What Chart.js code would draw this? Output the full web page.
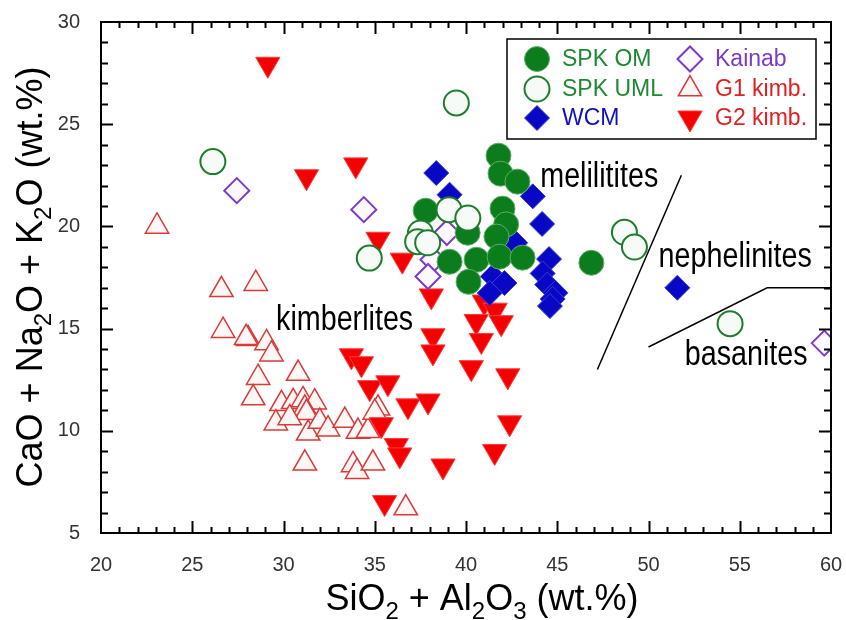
<!DOCTYPE html>
<html>
<head>
<meta charset="utf-8">
<script src="https://cdn.jsdelivr.net/npm/chart.js@4.4.1/dist/chart.umd.min.js"></script>
<style>
  html, body { margin: 0; padding: 0; background: #fff; }
</style>
</head>
<body>
<canvas id="chart" width="846" height="620"></canvas>
<script>
// data: [SiO2 + Al2O3, CaO + Na2O + K2O]
const spkOM = [[41.78,23.46],[41.89,22.58],[42.82,22.19],[37.79,20.77],[42.0,20.87],[42.2,20.1],
  [40.09,19.69],[41.67,19.5],[39.1,18.27],[40.58,18.37],[41.84,18.52],[43.1,18.47],[40.14,17.29],[46.87,18.22]];
const spkUML = [[39.47,26.04],[26.13,23.17],[34.7,18.45],[39.07,20.82],[40.1,20.41],[37.5,19.68],
  [37.35,19.25],[37.9,19.2],[48.68,19.71],[49.23,18.99],[54.47,15.24]];
const wcm = [[38.37,22.61],[39.1,21.55],[43.66,21.47],[44.17,20.12],[42.7,19.2],[44.55,18.4],[44.2,17.7],
  [44.45,17.15],[44.9,16.75],[44.75,16.45],[44.6,16.1],[41.47,17.55],[42.11,17.23],[41.3,16.74],[51.58,17.0]];
const kainab = [[27.44,21.75],[34.4,20.82],[38.95,19.7],[38.19,18.37],[37.92,17.55],[59.63,14.29]];
const g1kimb = [[23.07,20.0],[26.6,16.9],[28.48,17.2],[26.69,14.9],[28.06,14.5],[27.95,14.55],[29.07,14.3],
  [29.34,13.75],[28.61,12.6],[30.8,12.8],[28.34,11.6],[29.89,11.32],[30.53,11.42],[31.07,11.51],[31.71,11.4],
  [31.17,11.1],[31.26,10.88],[29.58,10.37],[30.34,10.63],[31.35,9.88],[31.99,10.45],[32.44,10.08],[33.36,10.5],
  [34.08,9.96],[34.63,10.0],[35.18,11.1],[35.0,10.9],[31.17,8.41],[33.81,8.33],[34.03,8.0],[34.9,8.41],[36.7,6.22]];
const g2kimb = [[29.14,27.93],[31.26,22.43],[33.96,23.01],[35.18,19.37],[36.51,18.35],[38.1,16.6],[41.0,16.3],
  [41.6,15.9],[40.56,15.35],[41.93,15.29],[40.84,14.42],[38.19,14.65],[38.19,13.86],[33.72,13.67],[34.27,13.28],
  [40.29,13.09],[42.29,12.69],[34.72,12.11],[35.72,12.35],[36.82,11.22],[37.92,11.46],[35.36,10.3],[36.18,9.28],
  [36.37,8.82],[38.74,8.28],[42.39,10.39],[41.57,8.99],[35.54,6.49]];

// field boundaries
const lineMelNeph = [[47.2,13.0],[51.8,22.5]];
const lineNephBas = [[50.0,14.1],[56.5,17.0],[60,17.0]];

// field names and where they sit (data units)
const fieldNames = ['melilitites', 'nephelinites', 'basanites', 'kimberlites'];
const fieldAt = [[47.3,22.4],[54.75,18.5],[55.35,13.7],[33.35,15.4]];

const xTicks = [20, 25, 30, 35, 40, 45, 50, 55, 60];
const yTicks = [5, 10, 15, 20, 25, 30];

const pts = a => a.map(p => ({ x: p[0], y: p[1] }));

const series = [
  { label: 'SPK OM',  data: spkOM,  style: 'circle',  rot: 0,   r: 12.5, bg: '#0b7d1c', bc: '#5fae66', bw: 1,   text: '#1f8a33', order: 1 },
  { label: 'SPK UML', data: spkUML, style: 'circle',  rot: 0,   r: 12.5, bg: '#f7fbf7', bc: '#1e7d2a', bw: 2,   text: '#1f8a33', order: 0 },
  { label: 'WCM',     data: wcm,    style: 'rectRot', rot: 0,   r: 12.5, bg: '#0808c4', bc: '#3a3ad8', bw: 1,   text: '#1010c0', order: 2 },
  { label: 'Kainab',  data: kainab, style: 'rectRot', rot: 0,   r: 12.5, bg: '#fbf9ff', bc: '#7a3cc8', bw: 2,   text: '#7a3cc8', order: 3 },
  { label: 'G1 kimb.',data: g1kimb, style: 'triangle',rot: 0,   r: 13.5, bg: '#fff6f6', bc: '#d83a3a', bw: 1.5, text: '#e02020', order: 5 },
  { label: 'G2 kimb.',data: g2kimb, style: 'triangle',rot: 180, r: 14,   bg: '#f50000', bc: '#ff3b3b', bw: 1,   text: '#e02020', order: 4 }
];

const datasets = series.map(s => ({
  label: s.label,
  data: pts(s.data),
  pointStyle: s.style,
  rotation: s.rot,
  pointRadius: s.r,
  pointHoverRadius: s.r,
  backgroundColor: s.bg,
  borderColor: s.bc,
  borderWidth: s.bw,
  order: s.order
}));

[lineMelNeph, lineNephBas].forEach(l => datasets.push({
  type: 'line', label: '', data: pts(l), showLine: true, pointRadius: 0,
  borderColor: '#000', borderWidth: 1.5, fill: false, order: 9
}));

function drawRich(ctx, parts, x, y, size) {
  // parts: [text, isSub]
  const big = size + 'px "Liberation Sans", Arial, sans-serif';
  const small = Math.round(size * 0.68) + 'px "Liberation Sans", Arial, sans-serif';
  let w = 0;
  parts.forEach(p => { ctx.font = p[1] ? small : big; w += ctx.measureText(p[0]).width; });
  let cx = x - w / 2;
  parts.forEach(p => {
    ctx.font = p[1] ? small : big;
    ctx.fillText(p[0], cx, p[1] ? y + size * 0.25 : y);
    cx += ctx.measureText(p[0]).width;
  });
}

const decor = {
  id: 'decor',
  afterDraw(chart) {
    const ctx = chart.ctx;
    const xs = chart.scales.x, ys = chart.scales.y;
    const a = chart.chartArea;
    ctx.save();

    // frame with inward ticks
    ctx.strokeStyle = '#000';
    ctx.lineWidth = 2;
    ctx.strokeRect(a.left, a.top, a.right - a.left, a.bottom - a.top);
    ctx.beginPath();
    for (let v = 21; v < 60; v++) {
      const px = Math.round(xs.getPixelForValue(v)) + 0.5;
      const len = v % 5 === 0 ? 12 : 6;
      ctx.moveTo(px, a.bottom); ctx.lineTo(px, a.bottom - len);
      ctx.moveTo(px, a.top); ctx.lineTo(px, a.top + len);
    }
    for (let v = 6; v < 30; v++) {
      const py = Math.round(ys.getPixelForValue(v)) + 0.5;
      const len = v % 5 === 0 ? 12 : 7;
      ctx.moveTo(a.left, py); ctx.lineTo(a.left + len, py);
      ctx.moveTo(a.right, py); ctx.lineTo(a.right - len, py);
    }
    ctx.stroke();

    // field names, narrow sans
    ctx.fillStyle = '#000';
    ctx.textAlign = 'center';
    ctx.textBaseline = 'middle';
    ctx.font = '35px "Liberation Sans", Arial, sans-serif';
    fieldNames.forEach((n, i) => {
      ctx.save();
      ctx.translate(xs.getPixelForValue(fieldAt[i][0]), ys.getPixelForValue(fieldAt[i][1]));
      ctx.scale(0.82, 1);
      ctx.fillText(n, 0, 0);
      ctx.restore();
    });

    // legend
    const lx = 507, ly = 39, lw = 309, lh = 100;
    ctx.fillStyle = '#fff';
    ctx.fillRect(lx, ly, lw, lh);
    ctx.lineWidth = 1.5;
    ctx.strokeStyle = '#000';
    ctx.strokeRect(lx, ly, lw, lh);
    const cols = [537, 690], rows = [59, 89, 118];
    ctx.textAlign = 'left';
    ctx.font = '23px "Liberation Sans", Arial, sans-serif';
    series.forEach((s, i) => {
      const cx = cols[Math.floor(i / 3)], cy = rows[i % 3];
      ctx.fillStyle = s.bg;
      ctx.strokeStyle = s.bc;
      ctx.lineWidth = s.bw;
      Chart.helpers.drawPoint(ctx, { pointStyle: s.style, rotation: s.rot, radius: s.r, borderWidth: s.bw }, cx, cy);
      ctx.fillStyle = s.text;
      ctx.textBaseline = 'middle';
      ctx.fillText(s.label, cx + 25, cy + 1);
    });

    // axis titles
    ctx.fillStyle = '#000';
    ctx.textAlign = 'left';
    ctx.textBaseline = 'alphabetic';
    drawRich(ctx, [['SiO', 0], ['2', 1], [' + Al', 0], ['2', 1], ['O', 0], ['3', 1], [' (wt.%)', 0]], 482, 610, 36);
    ctx.translate(42, 277);
    ctx.rotate(-Math.PI / 2);
    drawRich(ctx, [['CaO + Na', 0], ['2', 1], ['O + K', 0], ['2', 1], ['O (wt.%)', 0]], 0, 0, 36);
    ctx.restore();
  }
};

new Chart(document.getElementById('chart'), {
  type: 'scatter',
  data: { datasets: datasets },
  options: {
    responsive: false,
    animation: false,
    layout: { padding: 0 },
    plugins: { legend: { display: false }, tooltip: { enabled: false } },
    scales: {
      x: {
        type: 'linear', min: 20, max: 60,
        afterBuildTicks: s => { s.ticks = xTicks.map(v => ({ value: v })); },
        afterFit: s => { s.height = 87; s.paddingLeft = 0; s.paddingRight = 14; },
        grid: { display: false, drawTicks: false },
        border: { display: false },
        ticks: { padding: 20, color: '#333', font: { family: '"Liberation Sans", Arial, sans-serif', size: 20 } }
      },
      y: {
        type: 'linear', min: 5, max: 30,
        afterBuildTicks: s => { s.ticks = yTicks.map(v => ({ value: v })); },
        afterFit: s => { s.width = 101; s.paddingTop = 22; s.paddingBottom = 0; },
        grid: { display: false, drawTicks: false },
        border: { display: false },
        ticks: { padding: 21, color: '#333', font: { family: '"Liberation Sans", Arial, sans-serif', size: 20 } }
      }
    }
  },
  plugins: [decor]
});
</script>
</body>
</html>
